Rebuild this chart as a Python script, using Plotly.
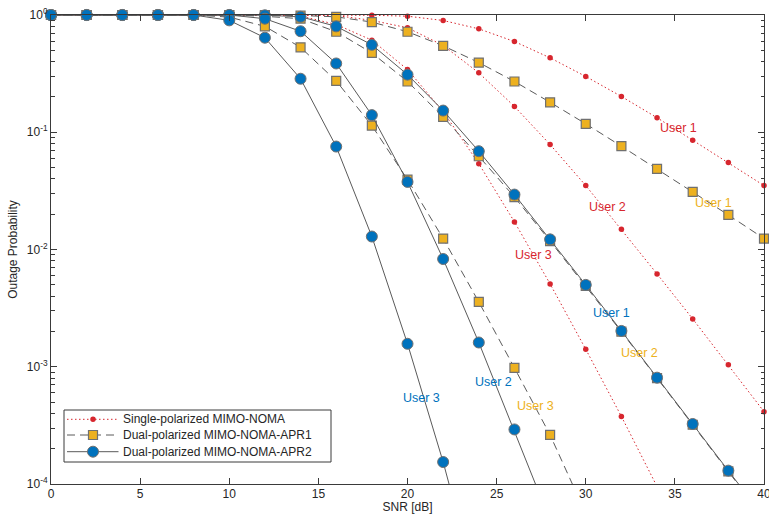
import plotly.graph_objects as go

# ---------------- data ----------------
snr = [0, 2, 4, 6, 8, 10, 12, 14, 16, 18, 20, 22, 24, 26, 28, 30, 32, 34, 36, 38, 40]

# Single-polarized MIMO-NOMA
sp_user1 = [1, 1, 1, 1, 1, 1, 1, 1, 1, 0.995, 0.977, 0.898, 0.762, 0.594, 0.431, 0.299,
            0.202, 0.133, 0.0855, 0.0551, 0.0351]
sp_user2 = [1, 1, 1, 1, 1, 1, 1, 0.999, 0.99, 0.9, 0.778, 0.55, 0.321, 0.166, 0.0785,
            0.0351, 0.0149, 0.00619, 0.00256, 0.00104, 0.000414]
sp_user3 = [1, 1, 1, 1, 1, 1, 1, 0.98, 0.83, 0.61, 0.343, 0.15, 0.054, 0.0172, 0.00509,
            0.00141, 0.000377, 0.000095, 0.000023, 0.0000055, 0.0000013]

# Dual-polarized MIMO-NOMA-APR1
apr1_user1 = [1, 1, 1, 1, 1, 1, 0.998, 0.99, 0.965, 0.87, 0.72, 0.546, 0.393, 0.271, 0.18,
              0.118, 0.076, 0.0487, 0.031, 0.0197, 0.0124]
apr1_user2 = [1, 1, 1, 1, 1, 1, 0.975, 0.93, 0.72, 0.475, 0.271, 0.135, 0.0624, 0.028,
              0.0118, 0.0049, 0.00199, 0.0008, 0.00032, 0.000128, 0.000051]
apr1_user3 = [1, 1, 1, 1, 1, 0.96, 0.8, 0.53, 0.274, 0.114, 0.0395, 0.0124, 0.00357,
              0.000977, 0.000262, 0.000056, 0.000011, 0.000002, 0.0000004, 0.00000008, 0.00000002]

# Dual-polarized MIMO-NOMA-APR2
apr2_user1 = [1, 1, 1, 1, 1, 1, 0.995, 0.966, 0.8, 0.557, 0.31, 0.153, 0.0689, 0.0294,
              0.0122, 0.00499, 0.00202, 0.000807, 0.000325, 0.00013, 0.000052]
apr2_user2 = [1, 1, 1, 1, 1, 1, 0.93, 0.727, 0.386, 0.14, 0.0377, 0.0083, 0.00161,
              0.000292, 0.00005, 0.0000085, 0.0000014, 0.0000002, 0.00000003, 0.000000005, 0.000000001]
apr2_user3 = [1, 1, 1, 1, 1, 0.9, 0.64, 0.286, 0.0755, 0.0129, 0.00157, 0.000154, 0.000012,
              0.0000009, 0.00000007, 0.000000005, 0.0000000004, 3e-11, 2e-12, 1e-13, 1e-14]

legend_names = ["Single-polarized MIMO-NOMA", "Dual-polarized MIMO-NOMA-APR1",
                "Dual-polarized MIMO-NOMA-APR2"]

y_tickvals = [1e-4, 1e-3, 1e-2, 1e-1, 1]
y_ticktext = ["10<sup>-4</sup>", "10<sup>-3</sup>", "10<sup>-2</sup>", "10<sup>-1</sup>", "10<sup>0</sup>"]
x_tickvals = [0, 5, 10, 15, 20, 25, 30, 35, 40]

# curve labels
label_text = ["User 1", "User 2", "User 3",
              "User 1", "User 2", "User 3",
              "User 1", "User 2", "User 3"]
label_group = ["sp", "sp", "sp", "apr1", "apr1", "apr1", "apr2", "apr2", "apr2"]
label_x = [35.2, 31.2, 27.05, 37.15, 33.0, 27.2, 31.45, 24.8, 20.8]
label_y = [-0.964, -1.637, -2.047, -1.603, -2.883, -3.335, -2.542, -3.13, -3.267]

# ---------------- styles ----------------
RED = "#D7262E"
YEL = "#EDB120"
BLU = "#0072BD"
GRAY = "#5a5a5a"
AX = "#3a3a3a"
TXT = "#262626"
FONT = "Liberation Sans, Arial, Helvetica, sans-serif"
YMIN = 1e-4
group_color = {"sp": RED, "apr1": YEL, "apr2": BLU}

styles = {
    "sp": dict(line=dict(color=RED, width=1, dash="1.5px,2.5px"),
               marker=dict(symbol="circle", size=5.5, color=RED, line=dict(width=0))),
    "apr1": dict(line=dict(color=GRAY, width=1, dash="8px,5px"),
                 marker=dict(symbol="square", size=9, color=YEL,
                             line=dict(width=1.2, color="#707070"))),
    "apr2": dict(line=dict(color=GRAY, width=1),
                 marker=dict(symbol="circle", size=11, color=BLU,
                             line=dict(width=1, color="#707070"))),
}

fig = go.Figure()

def add_series(ys, style):
    st = styles[style]
    # line (clipped to plotting area)
    fig.add_trace(go.Scatter(x=snr, y=ys, mode="lines", showlegend=False,
                             line=st["line"], hoverinfo="skip"))
    # markers (only those inside the axis range, not clipped at the box)
    ym = [v if v >= YMIN else None for v in ys]
    fig.add_trace(go.Scatter(x=snr, y=ym, mode="markers", showlegend=False,
                             marker=st["marker"], cliponaxis=False))

series = [(sp_user1, "sp"), (sp_user2, "sp"), (sp_user3, "sp"),
          (apr1_user1, "apr1"), (apr1_user2, "apr1"), (apr1_user3, "apr1"),
          (apr2_user1, "apr2"), (apr2_user2, "apr2"), (apr2_user3, "apr2")]
for ys, style in series:
    add_series(ys, style)

for t, g, lx, ly in zip(label_text, label_group, label_x, label_y):
    fig.add_annotation(x=lx, y=ly, xref="x", yref="y", text=t, showarrow=False,
                       font=dict(family=FONT, size=12.5, color=group_color[g]),
                       xanchor="center", yanchor="middle")

# ---------------- legend (MATLAB-like compact box) ----------------
PL, PT, PW, PH = 51, 15, 713, 469          # plot area in pixels


def px_x(p):
    return (p - PL) / PW


def px_y(p):
    return (PT + PH - p) / PH


fig.add_shape(type="rect", xref="paper", yref="paper",
              x0=px_x(64), x1=px_x(331), y0=px_y(462), y1=px_y(410),
              line=dict(color=AX, width=1), fillcolor="white", layer="above")
row_y = [419.3, 435.0, 451.7]
for name, style, ry in zip(legend_names, ["sp", "apr1", "apr2"], row_y):
    st = styles[style]
    fig.add_shape(type="line", xref="paper", yref="paper",
                  x0=px_x(67), x1=px_x(118.5), y0=px_y(ry), y1=px_y(ry),
                  line=st["line"], layer="above")
    m = st["marker"]
    r = m["size"] / 2
    fig.add_shape(type="circle" if m["symbol"] == "circle" else "rect",
                  xref="paper", yref="paper", xsizemode="pixel", ysizemode="pixel",
                  xanchor=px_x(93), yanchor=px_y(ry), x0=-r, x1=r, y0=-r, y1=r,
                  fillcolor=m["color"],
                  line=dict(color=m["line"].get("color", m["color"]),
                            width=m["line"]["width"]),
                  layer="above")
    fig.add_annotation(x=px_x(121), y=px_y(ry), xref="paper", yref="paper", text=name,
                       showarrow=False, xanchor="left", yanchor="middle",
                       font=dict(family=FONT, size=12, color=TXT))

minor_vals = [m * 10 ** e for e in range(-4, 0) for m in range(2, 10)]

fig.update_xaxes(range=[0, 40], tickvals=x_tickvals, ticks="inside", ticklen=6,
                 tickcolor=AX, showline=True, linecolor=AX, linewidth=1, mirror="allticks",
                 showgrid=False, zeroline=False, automargin=False, ticklabelstandoff=-1,
                 ticklabeloverflow="allow",
                 tickfont=dict(family=FONT, size=12, color=TXT),
                 title=dict(text="SNR [dB]", standoff=1,
                            font=dict(family=FONT, size=12, color=TXT)))
fig.update_yaxes(type="log", range=[-4, 0], tickvals=y_tickvals, ticktext=y_ticktext,
                 ticks="inside", ticklen=6, tickcolor=AX, showline=True, linecolor=AX,
                 linewidth=1, mirror="allticks", showgrid=False, zeroline=False,
                 automargin=False, ticklabeloverflow="allow",
                 minor=dict(tickvals=minor_vals, ticks="inside", ticklen=3.5, tickcolor=AX,
                            showgrid=False),
                 tickfont=dict(family=FONT, size=12, color=TXT),
                 title=dict(text="Outage Probability", standoff=6,
                            font=dict(family=FONT, size=12, color=TXT)))

fig.update_layout(
    width=769, height=514,
    margin=dict(l=PL, r=769 - PL - PW, t=PT, b=514 - PT - PH),
    paper_bgcolor="white", plot_bgcolor="white",
    showlegend=False,
)

fig.write_html("out.html", config={"displayModeBar": False},
               post_script="document.body.style.margin='0';document.body.style.padding='0';"
                           "document.body.style.overflow='hidden';")
